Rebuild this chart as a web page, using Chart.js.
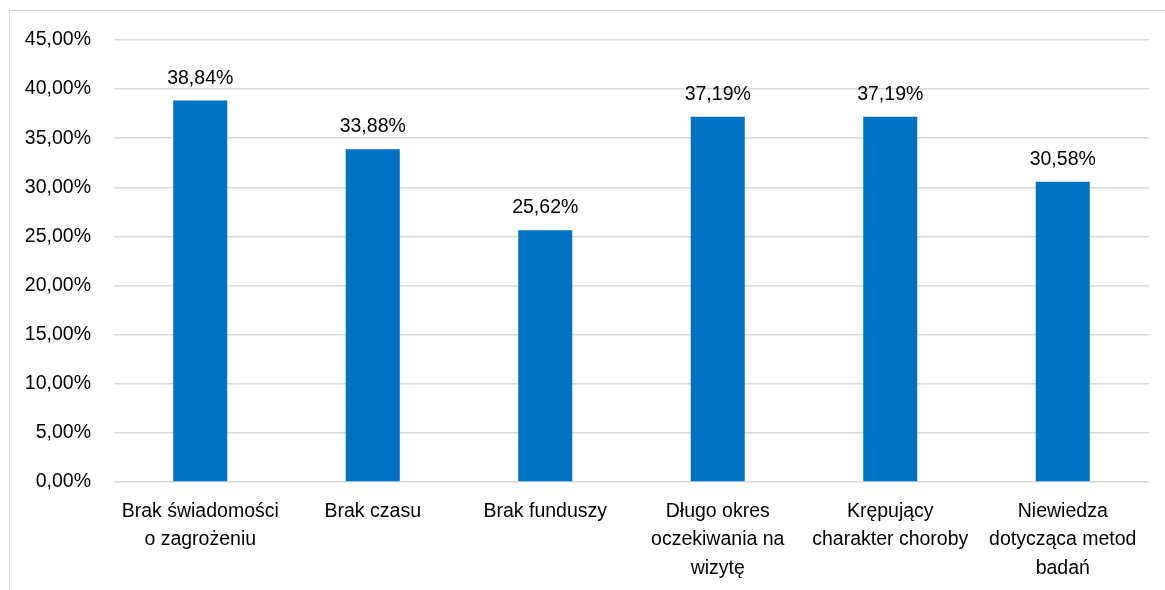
<!DOCTYPE html>
<html>
<head>
<meta charset="utf-8">
<script src="https://cdn.jsdelivr.net/npm/chart.js@4/dist/chart.umd.min.js"></script>
<style>
  html, body { margin: 0; padding: 0; background: #fff; }
  #wrap { position: relative; width: 1165px; height: 590px; overflow: hidden; }
  #frame { position: absolute; left: 9px; top: 10px; width: 1170px; height: 600px; border: 1px solid #d9d9d9; box-sizing: border-box; }
  canvas { position: absolute; left: 0; top: 0; }
</style>
</head>
<body>
<div id="wrap">
  <div id="frame"></div>
  <canvas id="c" width="1165" height="590"></canvas>
</div>
<script>
const categories = [
  ["Brak świadomości", "o zagrożeniu"],
  ["Brak czasu"],
  ["Brak funduszy"],
  ["Długo okres", "oczekiwania na", "wizytę"],
  ["Krępujący", "charakter choroby"],
  ["Niewiedza", "dotycząca metod", "badań"]
];
const values = [38.84, 33.88, 25.62, 37.19, 37.19, 30.58];
const yTicks = [0, 5, 10, 15, 20, 25, 30, 35, 40, 45];

const FONT_FAMILY = "'Liberation Sans', Arial, sans-serif";
const FONT_SIZE = 19.5;
const fmt = v => v.toFixed(2).replace('.', ',') + '%';

const labelPlugin = {
  id: 'barLabels',
  afterDatasetsDraw(chart) {
    const ctx = chart.ctx;
    const meta = chart.getDatasetMeta(0);
    ctx.save();
    ctx.font = FONT_SIZE + "px " + FONT_FAMILY;
    ctx.fillStyle = '#000';
    ctx.textAlign = 'center';
    ctx.textBaseline = 'alphabetic';
    meta.data.forEach((bar, i) => {
      ctx.fillText(fmt(values[i]), bar.x, bar.y - 17);
    });
    ctx.restore();
  }
};

new Chart(document.getElementById('c'), {
  type: 'bar',
  data: {
    labels: categories,
    datasets: [{
      data: values,
      backgroundColor: '#0070C0',
      borderWidth: 0,
      categoryPercentage: 1,
      barPercentage: 0.313
    }]
  },
  options: {
    responsive: false,
    animation: false,
    devicePixelRatio: 1,
    layout: { padding: { left: 0, right: 16, top: 40, bottom: 0 } },
    plugins: { legend: { display: false }, tooltip: { enabled: false } },
    scales: {
      x: {
        grid: { display: false, drawTicks: false },
        border: { display: false },
        ticks: {
          color: '#000',
          font: { family: FONT_FAMILY, size: FONT_SIZE, lineHeight: 1.44 },
          padding: 16,
          maxRotation: 0,
          autoSkip: false
        },
        afterFit(scale) { scale.height = 108; }
      },
      y: {
        min: 0,
        max: 45,
        afterBuildTicks(scale) { scale.ticks = yTicks.map(v => ({ value: v })); },
        grid: { color: '#d9d9d9', lineWidth: 1.5, drawTicks: false },
        border: { display: false },
        ticks: {
          color: '#000',
          font: { family: FONT_FAMILY, size: FONT_SIZE },
          padding: 23,
          callback: v => fmt(v)
        },
        afterFit(scale) { scale.width = 114; }
      }
    }
  },
  plugins: [labelPlugin]
});
</script>
</body>
</html>
